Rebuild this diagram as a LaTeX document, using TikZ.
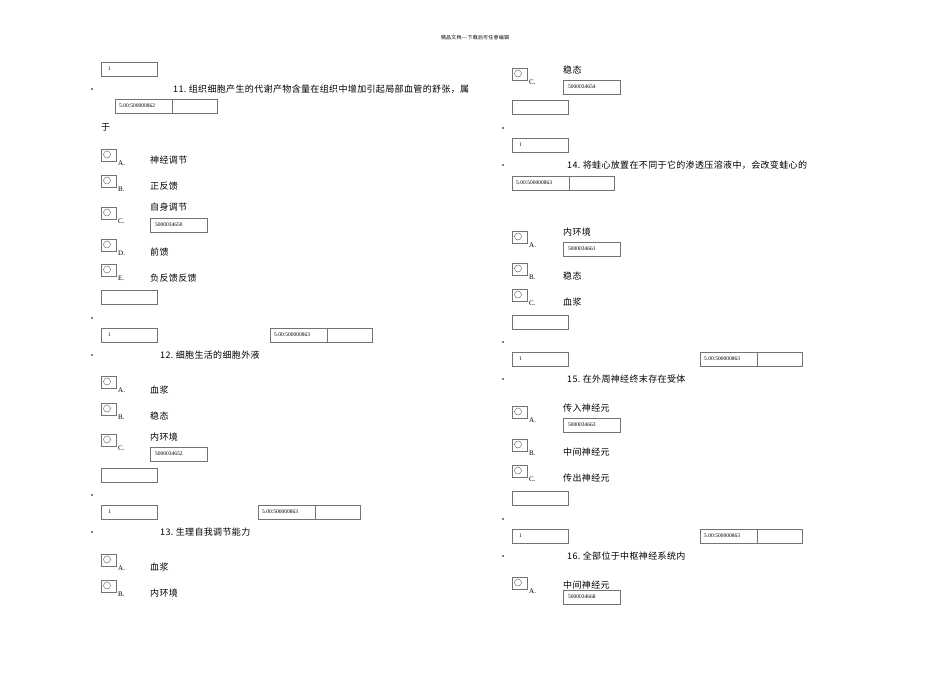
\documentclass[tikz,border=0pt]{standalone}
\usepackage{fontspec}
\setmainfont{Liberation Serif}
\newfontfamily\cjk[LetterSpace=4]{Noto Sans CJK SC}
\newcommand\onebox[3]{\begin{scope}[shift={(#1,#2)}]\draw[fld] (0,0) rectangle (56,14); \node[boxtxt] (#3) at (7,7) {1};\end{scope}}
\newcommand\emptybox[3]{\begin{scope}[shift={(#1,#2)}]\draw[fld] (0,0) rectangle (56,14); \coordinate (#3) at (0,0);\end{scope}}
\newcommand\scorebox[4]{\begin{scope}[shift={(#1,#2)}]\draw[fld] (0,0) rectangle (57,14); \draw[fld] (57,0) rectangle (102,14); \node[boxtxt] (#4) at (4,7) {#3};\end{scope}}
\newcommand\idbox[4]{\begin{scope}[shift={(#1,#2)}]\draw[fld] (0,0) rectangle (57,14); \node[boxtxt] (#4) at (5,7) {#3};\end{scope}}
\newcommand\myradio[4]{\begin{scope}[shift={(#1,#2)}]\draw[fld] (0,0) rectangle (15,12);
  \draw[black!55,line width=0.5pt] (6,5.5) circle (3.5);
  \node[lbl] (#4) at (17,16) {#3};\end{scope}}
\newcommand\myopt[4]{\node[qtxt] (#4) at (#1,#2) {#3};}
\newcommand\mybull[3]{\node[bul] (#3) at (#1,#2) {};}
\begin{document}
\begin{tikzpicture}[x=1pt,y=-1pt,
  fld/.style={draw=black!55,line width=0.6pt},
  boxtxt/.style={anchor=west,inner sep=0pt,font=\fontsize{5.5}{6}\selectfont},
  qtxt/.style={anchor=west,inner sep=0pt,font=\cjk\fontsize{9}{10}\selectfont},
  lbl/.style={anchor=base west,inner sep=0pt,font=\fontsize{7}{8}\selectfont},
  bul/.style={circle,fill=black,inner sep=0pt,minimum size=1.6pt}]
\useasboundingbox (0,0) rectangle (950,672);
\node[inner sep=0pt,font=\cjk\fontsize{5}{6}\selectfont] (hdr) at (475,38) {精品文档---下载后可任意编辑};
% ---- left column
\onebox{101}{62}{l1}
\mybull{92}{89}{b1}
\node[qtxt] (q11) at (160,89) {\hspace{13pt}11.\ 组织细胞产生的代谢产物含量在组织中增加引起局部血管的舒张，属};
\scorebox{115}{99}{5.00:500000862}{s11}
\node[qtxt] (q11b) at (101,127) {于};
\myradio{101}{149}{A.}{r11a}\myopt{150}{160}{神经调节}{o11a}
\myradio{101}{175}{B.}{r11b}\myopt{150}{186}{正反馈}{o11b}
\myradio{101}{207}{C.}{r11c}\myopt{150}{207}{自身调节}{o11c}
\idbox{150}{218}{5000034650}{i11c}
\myradio{101}{239}{D.}{r11d}\myopt{150}{252}{前馈}{o11d}
\myradio{101}{264}{E.}{r11e}\myopt{150}{278}{负反馈反馈}{o11e}
\emptybox{101}{290}{e11}
\mybull{92}{318}{b2}
\onebox{101}{328}{l2}
\scorebox{270}{328}{5.00:500000863}{s12}
\mybull{92}{355}{b3}
\node[qtxt] (q12) at (160,355) {12.\ 细胞生活的细胞外液};
\myradio{101}{376}{A.}{r12a}\myopt{150}{390}{血浆}{o12a}
\myradio{101}{403}{B.}{r12b}\myopt{150}{416}{稳态}{o12b}
\myradio{101}{434}{C.}{r12c}\myopt{150}{437}{内环境}{o12c}
\idbox{150}{447}{5000034652}{i12c}
\emptybox{101}{468}{e12}
\mybull{92}{495}{b4}
\onebox{101}{505}{l3}
\scorebox{258}{505}{5.00:500000863}{s13}
\mybull{92}{532}{b5}
\node[qtxt] (q13) at (160,532) {13.\ 生理自我调节能力};
\myradio{101}{554}{A.}{r13a}\myopt{150}{567}{血浆}{o13a}
\myradio{101}{580}{B.}{r13b}\myopt{150}{593}{内环境}{o13b}
% ---- right column
\myradio{512}{68}{C.}{r13c}\myopt{563}{70}{稳态}{o13c}
\idbox{563}{80}{5000034654}{i13c}
\emptybox{512}{100}{e13}
\mybull{503}{128}{b6}
\onebox{512}{138}{l4}
\mybull{503}{165}{b7}
\node[qtxt] (q14) at (567,165) {14.\ 将蛙心放置在不同于它的渗透压溶液中，会改变蛙心的};
\scorebox{512}{176}{5.00:500000863}{s14}
\myradio{512}{231}{A.}{r14a}\myopt{563}{232}{内环境}{o14a}
\idbox{563}{242}{5000034661}{i14a}
\myradio{512}{263}{B.}{r14b}\myopt{563}{276}{稳态}{o14b}
\myradio{512}{289}{C.}{r14c}\myopt{563}{302}{血浆}{o14c}
\emptybox{512}{315}{e14}
\mybull{503}{342}{b8}
\onebox{512}{352}{l5}
\scorebox{700}{352}{5.00:500000863}{s15}
\mybull{503}{379}{b9}
\node[qtxt] (q15) at (567,379) {15.\ 在外周神经终末存在受体};
\myradio{512}{406}{A.}{r15a}\myopt{563}{408}{传入神经元}{o15a}
\idbox{563}{418}{5000034663}{i15a}
\myradio{512}{439}{B.}{r15b}\myopt{563}{452}{中间神经元}{o15b}
\myradio{512}{465}{C.}{r15c}\myopt{563}{478}{传出神经元}{o15c}
\emptybox{512}{491}{e15}
\mybull{503}{519}{b10}
\onebox{512}{529}{l6}
\scorebox{700}{529}{5.00:500000863}{s16}
\mybull{503}{556}{b11}
\node[qtxt] (q16) at (567,556) {16.\ 全部位于中枢神经系统内};
\myradio{512}{577}{A.}{r16a}\myopt{563}{585}{中间神经元}{o16a}
\idbox{563}{590}{5000034668}{i16a}
\end{tikzpicture}
\end{document}
